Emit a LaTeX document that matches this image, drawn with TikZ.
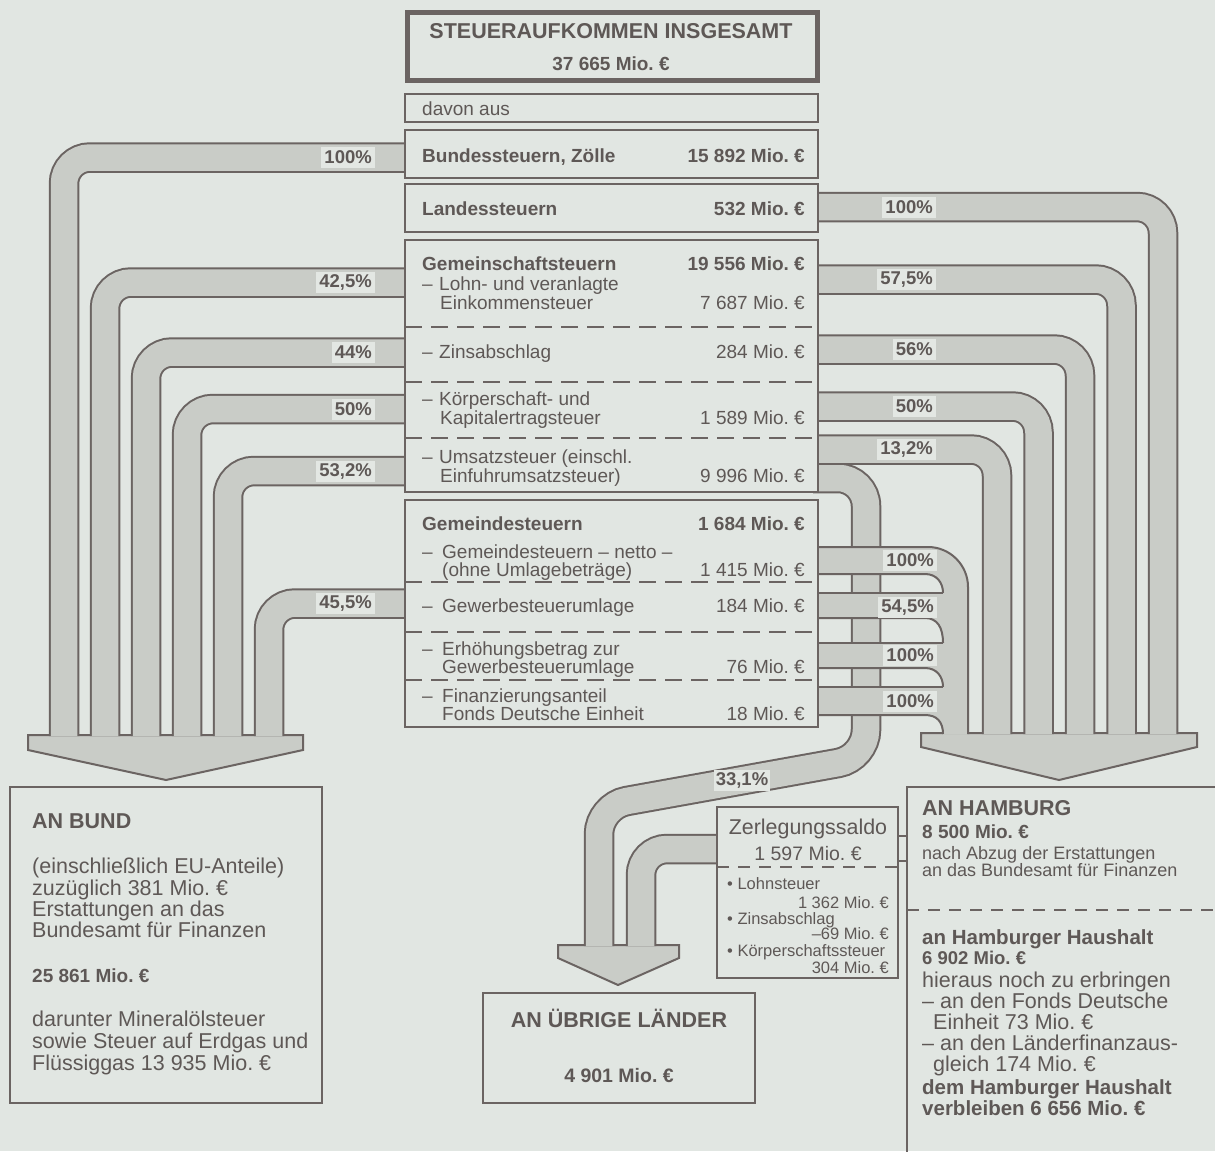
\documentclass[tikz,border=0pt]{standalone}
\usepackage{fontspec}
\setmainfont{Liberation Sans}
\frenchspacing
\newcommand\myfs[1]{\fontsize{#1}{#1}\selectfont}
\definecolor{bgc}{HTML}{E1E6E2}
\definecolor{ink}{HTML}{5E5856}
\definecolor{edgec}{HTML}{6B6462}
\definecolor{bandc}{HTML}{C9CCC7}
\definecolor{lblc}{HTML}{E3E7E3}
\begin{document}
\begin{tikzpicture}[x=1pt,y=-1pt,
  band/.style={draw=edgec, line width=2pt, double=bandc, double distance=26.5pt, rounded corners=26pt},
  head/.style={fill=bandc, draw=edgec, line width=2pt, line join=miter},
  box/.style={fill=bgc, draw=edgec, line width=2pt},
  sep/.style={draw=edgec, line width=2pt, dash pattern=on 17pt off 9pt},
  sepsmall/.style={draw=edgec, line width=1.8pt, dash pattern=on 12pt off 9pt},
  edgeline/.style={draw=edgec, line width=2pt},
  tx/.style={inner sep=0pt, text=ink, font=\myfs{19}},
  tl/.style={tx, anchor=base west},
  tr/.style={tx, anchor=base east},
  pct/.style={fill=lblc, text=ink, font=\bfseries\myfs{18.5}, inner xsep=3pt, inner ysep=0pt, minimum height=21pt, anchor=east},
]
\useasboundingbox (0,0) rectangle (1215,1151);
\clip (0,0) rectangle (1215,1151);
\fill[bgc] (0,0) rectangle (1215,1151);

% ---------- arrow heads ----------
\filldraw[head] (28,735) -- (303,735) -- (303,750) -- (166,780) -- (28,750) -- cycle;
\filldraw[head] (921,733) -- (1197,733) -- (1197,747) -- (1059,780) -- (921,747) -- cycle;
\filldraw[head] (558,945) -- (679,945) -- (679,958) -- (618,985) -- (558,958) -- cycle;

% ---------- bands to Bund ----------
\draw[band] (410,157.5) -- (64,157.5) -- (64,736);
\draw[band] (410,282.5) -- (105,282.5) -- (105,736);
\draw[band] (410,352.5) -- (146,352.5) -- (146,736);
\draw[band] (410,409) -- (187,409) -- (187,736);
\draw[band] (410,471) -- (228,471) -- (228,736);
\draw[band] (410,603.5) -- (269,603.5) -- (269,736);

% ---------- band to uebrige Laender ----------
\draw[band, rounded corners=28pt] (813,478) -- (866,478) -- (866,758) -- (599,806) -- (599,946);
\draw[band] (722,849) -- (641,849) -- (641,946);

% ---------- bands to Hamburg ----------
\draw[band] (813,207) -- (1163,207) -- (1163,734);
\draw[band] (813,279.5) -- (1121.5,279.5) -- (1121.5,734);
\draw[band] (813,349.5) -- (1080,349.5) -- (1080,734);
\draw[band] (813,406.5) -- (1038.5,406.5) -- (1038.5,734);
\draw[band] (813,449.5) -- (997,449.5) -- (997,734);

% ---------- Gemeindesteuern bands to Hamburg ----------
\fill[bandc] (815,547) -- (928,547) .. controls (950,547) and (968,565) .. (968,587) -- (968,734.5) -- (943,734.5)
  .. controls (943,722) and (937,715) .. (925,715) -- (815,715) -- (815,687) -- (943,687)
  .. controls (943,677) and (937,668) .. (925,668) -- (815,668) -- (815,643) -- (943,643)
  .. controls (943,627) and (937,618) .. (925,618) -- (815,618) -- (815,593) -- (943,593)
  .. controls (943,583) and (937,574) .. (925,574) -- (815,574) -- cycle;
\draw[edgeline] (815,547) -- (928,547) .. controls (950,547) and (968,565) .. (968,587) -- (968,734);
\draw[edgeline] (815,574) -- (925,574) .. controls (937,574) and (943,583) .. (943,593);
\draw[edgeline] (815,593) -- (943,593);
\draw[edgeline] (815,618) -- (925,618) .. controls (937,618) and (943,627) .. (943,643);
\draw[edgeline] (815,643) -- (943,643);
\draw[edgeline] (815,668) -- (925,668) .. controls (937,668) and (943,677) .. (943,687);
\draw[edgeline] (815,687) -- (943,687);
\draw[edgeline] (815,715) -- (925,715) .. controls (937,715) and (943,722) .. (943,734);

% ---------- percent labels ----------
\node[pct] (pl1) at (375,157.5) {100\%\hspace{10pt}};
\node[pct] (pl2) at (375,282.5) {42,5\%\hspace{10pt}};
\node[pct] (pl3) at (375,352.5) {44\%\hspace{10pt}};
\node[pct] (pl4) at (375,409) {50\%\hspace{10pt}};
\node[pct] (pl5) at (375,471) {53,2\%\hspace{10pt}};
\node[pct] (pl6) at (375,603.5) {45,5\%\hspace{10pt}};
\node[pct] (pr1) at (936,207) {100\%\hspace{10pt}};
\node[pct] (pr2) at (936,279.5) {57,5\%\hspace{10pt}};
\node[pct] (pr3) at (936,349.5) {56\%\hspace{10pt}};
\node[pct] (pr4) at (936,406.5) {50\%\hspace{10pt}};
\node[pct] (pr5) at (936,449.5) {13,2\%\hspace{10pt}};
\node[pct] (pg1) at (937,560.5) {100\%\hspace{10pt}};
\node[pct] (pg2) at (937,607) {54,5\%\hspace{10pt}};
\node[pct] (pg3) at (937,655.5) {100\%\hspace{10pt}};
\node[pct] (pg4) at (937,701) {100\%\hspace{10pt}};
\node[pct, anchor=center, inner xsep=2pt] (p331) at (742,780) {33,1\%};

% ---------- central boxes ----------
\filldraw[box, line width=5pt] (407.5,12.5) rectangle (817.5,80.5);
\filldraw[box] (405,94) rectangle (818,122);
\filldraw[box] (405,130) rectangle (818,178);
\filldraw[box] (405,184) rectangle (818,232);
\filldraw[box] (405,240) rectangle (818,492);
\filldraw[box] (405,500) rectangle (818,727);
\draw[sep] (405,327) -- (818,327);
\draw[sep] (405,382) -- (818,382);
\draw[sep] (405,438) -- (818,438);
\draw[sep] (405,582) -- (818,582);
\draw[sep] (405,632) -- (818,632);
\draw[sep] (405,680) -- (818,680);

\node[tx, anchor=base, font=\bfseries\myfs{21.5}] (title) at (611,38) {STEUERAUFKOMMEN INSGESAMT};
\node[tx, anchor=base, font=\bfseries\myfs{19}] (total) at (611,70) {37 665 Mio. €};
\node[tl] (davon) at (422,115) {davon aus};
\node[tl, font=\bfseries\myfs{19}] (bund) at (422,162) {Bundessteuern, Zölle};
\node[tr, font=\bfseries\myfs{19}] (bundv) at (805,162) {15 892 Mio. €};
\node[tl, font=\bfseries\myfs{19}] (land) at (422,215) {Landessteuern};
\node[tr, font=\bfseries\myfs{19}] (landv) at (805,215) {532 Mio. €};
\node[tl, font=\bfseries\myfs{19}] (gem) at (422,270) {Gemeinschaftsteuern};
\node[tr, font=\bfseries\myfs{19}] (gemv) at (805,270) {19 556 Mio. €};
\node[tl] (lohn1) at (422,290) {\makebox[17pt][l]{–}Lohn- und veranlagte};
\node[tl] (lohn2) at (440,309) {Einkommensteuer};
\node[tr] (lohnv) at (805,309) {7 687 Mio. €};
\node[tl] (zins) at (422,358) {\makebox[17pt][l]{–}Zinsabschlag};
\node[tr] (zinsv) at (805,358) {284 Mio. €};
\node[tl] (koerp1) at (422,405) {\makebox[17pt][l]{–}Körperschaft- und};
\node[tl] (koerp2) at (440,424) {Kapitalertragsteuer};
\node[tr] (koerpv) at (805,424) {1 589 Mio. €};
\node[tl] (ums1) at (422,463) {\makebox[17pt][l]{–}Umsatzsteuer (einschl.};
\node[tl] (ums2) at (440,482) {Einfuhrumsatzsteuer)};
\node[tr] (umsv) at (805,482) {9 996 Mio. €};
\node[tl, font=\bfseries\myfs{19}] (gde) at (422,530) {Gemeindesteuern};
\node[tr, font=\bfseries\myfs{19}] (gdev) at (805,530) {1 684 Mio. €};
\node[tl] (netto1) at (422,558) {\makebox[20pt][l]{–}Gemeindesteuern – netto –};
\node[tl] (netto2) at (442,576) {(ohne Umlagebeträge)};
\node[tr] (nettov) at (805,576) {1 415 Mio. €};
\node[tl] (gew) at (422,612) {\makebox[20pt][l]{–}Gewerbesteuerumlage};
\node[tr] (gewv) at (805,612) {184 Mio. €};
\node[tl] (erh1) at (422,655) {\makebox[20pt][l]{–}Erhöhungsbetrag zur};
\node[tl] (erh2) at (442,673) {Gewerbesteuerumlage};
\node[tr] (erhv) at (805,673) {76 Mio. €};
\node[tl] (fin1) at (422,702) {\makebox[20pt][l]{–}Finanzierungsanteil};
\node[tl] (fin2) at (442,720) {Fonds Deutsche Einheit};
\node[tr] (finv) at (805,720) {18 Mio. €};

% ---------- AN BUND ----------
\filldraw[box] (10,787) rectangle (322,1103);
\node[tl, font=\bfseries\myfs{21.5}] (b1) at (32,828) {AN BUND};
\node[tl, font=\myfs{21.5}] (b2) at (32,873) {(einschließlich EU-Anteile)};
\node[tl, font=\myfs{21.5}] (b3) at (32,895) {zuzüglich 381 Mio. €};
\node[tl, font=\myfs{21.5}] (b4) at (32,916) {Erstattungen an das};
\node[tl, font=\myfs{21.5}] (b5) at (32,937) {Bundesamt für Finanzen};
\node[tl, font=\bfseries\myfs{19}] (b6) at (32,982) {25 861 Mio. €};
\node[tl, font=\myfs{21.5}] (b7) at (32,1026) {darunter Mineralölsteuer};
\node[tl, font=\myfs{21.5}] (b8) at (32,1048) {sowie Steuer auf Erdgas und};
\node[tl, font=\myfs{21.5}] (b9) at (32,1070) {Flüssiggas 13 935 Mio. €};

% ---------- AN UEBRIGE LAENDER ----------
\filldraw[box] (483,993) rectangle (755,1103);
\node[tx, anchor=base, font=\bfseries\myfs{21.5}] (u1) at (619,1027) {AN ÜBRIGE LÄNDER};
\node[tx, anchor=base, font=\bfseries\myfs{19.5}] (u2) at (619,1082) {4 901 Mio. €};

% ---------- Zerlegungssaldo ----------
\filldraw[box] (717,807) rectangle (898,978);
\draw[sepsmall] (717,867) -- (898,867);
\node[tx, anchor=base, font=\myfs{21.4}] (z1) at (808,834) {Zerlegungssaldo};
\node[tx, anchor=base, font=\myfs{19.5}] (z2) at (808,860) {1 597 Mio. €};
\node[tl, font=\myfs{16.5}] (z3) at (727,889) {• Lohnsteuer};
\node[tr, font=\myfs{16.5}] (z4) at (889,908) {1 362 Mio. €};
\node[tl, font=\myfs{16.5}] (z5) at (727,924) {• Zinsabschlag};
\node[tr, font=\myfs{16.5}] (z6) at (889,939) {–69 Mio. €};
\node[tl, font=\myfs{16.5}] (z7) at (727,956) {• Körperschaftssteuer};
\node[tr, font=\myfs{16.5}] (z8) at (889,973) {304 Mio. €};
\draw[edgeline] (898,836) -- (907,836);
\draw[edgeline] (898,861) -- (907,861);

% ---------- AN HAMBURG ----------
\draw[edgeline] (907,1152) -- (907,787) -- (1216,787);
\draw[sepsmall] (907,910) -- (1215,910);
\node[tl, font=\bfseries\myfs{21.5}] (h1) at (922,815) {AN HAMBURG};
\node[tl, font=\bfseries\myfs{19}] (h2) at (922,838) {8 500 Mio. €};
\node[tl, font=\myfs{18}] (h3) at (922,859) {nach Abzug der Erstattungen};
\node[tl, font=\myfs{18}] (h4) at (922,876) {an das Bundesamt für Finanzen};
\node[tl, font=\bfseries\myfs{20.5}] (h5) at (922,944) {an Hamburger Haushalt};
\node[tl, font=\bfseries\myfs{18.5}] (h6) at (922,964) {6 902 Mio. €};
\node[tl, font=\myfs{21.5}] (h7) at (922,987) {hieraus noch zu erbringen};
\node[tl, font=\myfs{21.5}] (h8) at (922,1008) {– an den Fonds Deutsche};
\node[tl, font=\myfs{21.5}] (h9) at (933,1029) {Einheit 73 Mio. €};
\node[tl, font=\myfs{21.5}] (h10) at (922,1050) {– an den Länderfinanzaus-};
\node[tl, font=\myfs{21.5}] (h11) at (933,1071) {gleich 174 Mio. €};
\node[tl, font=\bfseries\myfs{20.5}] (h12) at (922,1094) {dem Hamburger Haushalt};
\node[tl, font=\bfseries\myfs{20.5}] (h13) at (922,1115) {verbleiben 6 656 Mio. €};
\end{tikzpicture}
\end{document}
